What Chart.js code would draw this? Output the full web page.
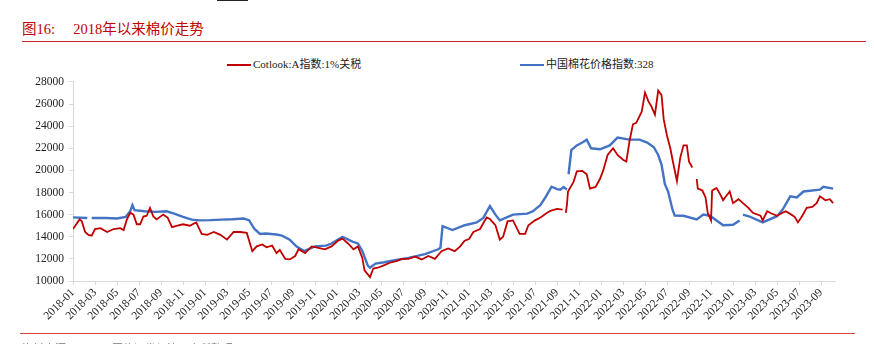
<!DOCTYPE html>
<html lang="zh-cn">
<head>
<meta charset="UTF-8">
<title>2018年以来棉价走势</title>
<script src="https://cdn.jsdelivr.net/npm/chart.js"></script>
<style>
    body { margin: 0; width: 874px; height: 344px; overflow: hidden; background: #fff; position: relative;
           font-family: "Liberation Serif", "Noto Sans CJK SC", serif; }
    .topMark { position: absolute; left: 217px; top: 0; width: 31px; height: 1px; background: #222; }
    .titulo { position: absolute; left: 22px; top: 17px; font-size: 14.5px; color: #c00000; white-space: pre; }
    .linhaTopo { position: absolute; left: 22px; top: 41px; width: 844px; height: 1px; background: #c0282d; }
    .linhaBase { position: absolute; left: 20px; top: 333px; width: 835px; height: 1px; background: #d44; }
    .fonte { position: absolute; left: 22px; top: 340px; font-size: 11px; color: #777; }
    .legenda { position: absolute; top: 55px; font-size: 11px; color: #222; white-space: nowrap; }
    .legenda span { display: inline-block; width: 24px; height: 2px; vertical-align: middle; margin-right: 2px; }
    #wrap { position: absolute; left: 0; top: 70px; width: 874px; height: 270px; }
</style>
</head>
<body>
<div class="topMark"></div>
<div class="titulo">图16:     2018年以来棉价走势</div>
<div class="linhaTopo"></div>
<div class="legenda" style="left:227px"><span style="background:#c00000"></span>Cotlook:A指数:1%关税</div>
<div class="legenda" style="left:520px"><span style="background:#4472c4"></span>中国棉花价格指数:328</div>
<div id="wrap"><canvas id="grafico"></canvas></div>
<div class="linhaBase"></div>
<div class="fonte">资料来源：Wind、国信证券经济研究所整理</div>

<script>
    // meses contados a partir de 2018-01
    var redMonths = [0, 0.6, 0.8, 1.1, 1.4, 1.7, 2.0, 2.5, 3.1, 3.7, 4.3, 4.6, 4.9, 5.2, 5.5, 5.8, 6.1, 6.4, 6.7, 7.0,
        7.3, 7.6, 8.2, 8.6, 9.0, 9.5, 10.0, 10.6, 11.2, 11.7, 12.2, 12.8, 13.4, 14.0, 14.6, 15.2, 15.8, 16.3, 16.7, 17.2,
        17.6, 18.1, 18.5, 18.8, 19.3, 19.7, 20.2, 20.5, 21.1, 21.7, 22.3, 22.9, 23.5, 24.1, 24.5, 25.0, 25.5, 25.9, 26.3, 26.5,
        27.0, 27.3, 27.7, 28.2, 28.8, 29.4, 29.9, 30.5, 31.1, 31.7, 32.3, 32.9, 33.5, 34.1, 34.7, 35.2, 35.6, 36.0, 36.4, 37.0,
        37.6, 37.9, 38.4, 38.8, 39.1, 39.5, 40.0, 40.6, 41.1, 41.4, 42.0, 42.5, 43.0, 43.4, 44.0, 44.5, 44.65, 44.8, 44.9, 45.0,
        45.5, 45.8, 46.3, 46.7, 47.0, 47.5, 47.9, 48.2, 48.6, 49.1, 49.5, 50.0, 50.3, 50.6, 50.9, 51.2, 51.7, 52.0, 52.3, 52.6,
        52.9, 53.2, 53.5, 53.7, 54.0, 54.3, 54.5, 54.9, 55.2, 55.5, 55.8, 56.0, 56.3, 56.5, 56.7, 56.8, 57.2, 57.5, 57.7, 58.0,
        58.1, 58.5, 58.8, 59.1, 59.4, 59.7, 60.0, 60.5, 60.9, 61.4, 61.8, 62.5, 62.7, 63.1, 63.5, 64.0, 64.5, 64.8, 65.3, 65.6,
        65.9, 66.3, 66.7, 67.2, 67.6, 67.9, 68.4, 68.8, 69.1];
    var redValues = [14700, 15570, 15400, 14430, 14170, 14100, 14700, 14780, 14430, 14700, 14780, 14600, 15570, 16170, 16000, 15130, 15130, 15830, 15900, 16610,
        15830, 15570, 16000, 15740, 14870, 15000, 15130, 15000, 15300, 14260, 14170, 14430, 14170, 13740, 14430, 14430, 14350, 12700, 13130, 13300,
        13040, 13200, 12520, 12800, 12000, 11950, 12260, 12870, 12520, 13130, 13000, 12870, 13130, 13650, 13830, 13390, 12870, 13130, 12090, 10960,
        10350, 11130, 11200, 11390, 11650, 11800, 12000, 12000, 12200, 11950, 12260, 12000, 12700, 12950, 12700, 13130, 13650, 13800, 14430, 14700,
        15740, 15600, 15040, 13740, 14000, 15390, 15480, 14260, 14260, 15040, 15480, 15740, 16100, 16350, 16520, 16450, null, 16170, 16870, 18090,
        18960, 19910, 19950, 19650, 18350, 18500, 19220, 20000, 21390, 22000, 21390, 20960, 20800, 22700, 24170, 24300, 25300, 27040, 26260, 25740,
        25040, 27220, 26800, 24610, 23130, 22000, 20960, 19040, 21130, 22260, 22260, 20790, 20260, null, 19220, 18350, 18200, 17560, 16170, 15480,
        18170, 18400, 17900, 17300, 17700, 18090, 17040, 17400, 17040, 16610, 16170, 15900, 15480, 16300, 16100, 15900, 16170, 16300, 16000, 15800,
        15300, 15900, 16610, 16700, 17040, 17650, 17300, 17400, 17040];

    var blueMonths = [0, 1.3, 1.5, 1.7, 3.0, 4.0, 4.8, 5.2, 5.4, 5.6, 6.5, 7.5, 8.5, 9.2, 10.0, 10.8, 11.5, 12.5, 13.5, 14.5,
        15.5, 16.0, 16.5, 17.0, 17.5, 18.5, 19.0, 19.7, 20.3, 21.0, 22.0, 23.0, 23.5, 24.5, 25.4, 25.9, 26.3, 26.8, 27.0, 27.5,
        28.3, 29.0, 30.5, 32.0, 33.2, 33.4, 33.6, 34.5, 35.6, 36.7, 37.3, 37.9, 38.4, 38.8, 40.0, 41.3, 41.8, 42.5, 43.0, 43.5,
        44.0, 44.3, 44.6, 44.9, 44.98, 45.05, 45.3, 45.8, 46.3, 46.7, 47.1, 47.9, 48.8, 49.5, 50.6, 51.5, 52.2, 52.8, 53.2, 53.5,
        53.8, 54.1, 54.5, 54.7, 55.5, 56.7, 57.3, 57.9, 59.1, 60.0, 60.6, 60.75, 60.9, 61.5, 62.7, 64.0, 64.5, 65.2, 65.8, 66.4,
        67.9, 68.2, 69.1];
    var blueValues = [15750, 15700, null, 15700, 15700, 15650, 15800, 16300, 16870, 16400, 16300, 16250, 16300, 16100, 15800, 15550, 15480, 15500, 15550, 15580,
        15650, 15500, 14700, 14250, 14290, 14200, 14100, 13740, 13130, 12700, 13130, 13200, 13390, 14000, 13560, 13400, 12700, 11390, 11200, 11570,
        11700, 11830, 12090, 12430, 12870, 13000, 14960, 14610, 15040, 15300, 15700, 16780, 16000, 15480, 16000, 16090, 16300, 16870, 17650, 18520,
        18300, 18260, 18500, 18260, null, 19650, 21830, 22260, 22520, 22780, 22000, 21910, 22260, 22960, 22780, 22780, 22520, 22090, 21390, 20520,
        18780, 18090, 16440, 15910, 15900, 15570, 16000, 15900, 15040, 15090, 15480, null, 16000, 15830, 15300, 15860, 16440, 17650, 17560, 18090,
        18260, 18520, 18350];

    var yTicks = [10000, 12000, 14000, 16000, 18000, 20000, 22000, 24000, 26000, 28000];
    var xTickMonths = [];
    for (let m = 0; m <= 68; m += 2) xTickMonths.push(m);

    function juntar(xs, ys) {
        var pts = [];
        for (let i = 0; i < xs.length; i++) pts.push({ x: xs[i], y: ys[i] });
        return pts;
    }

    function nomeMes(m) {
        var ano = 2018 + Math.floor(m / 12);
        var mes = (m % 12) + 1;
        return ano + '-' + (mes < 10 ? '0' + mes : mes);
    }

    var fonteSerif = "'Liberation Serif', 'Noto Sans CJK SC', serif";
    var cinza = '#d9d9d9';

    new Chart(document.getElementById('grafico'), {
        type: 'line',
        data: {
            datasets: [{
                label: 'Cotlook:A指数:1%关税',
                data: juntar(redMonths, redValues),
                borderColor: '#c00000',
                borderWidth: 1.8,
                pointRadius: 0,
                tension: 0
            }, {
                label: '中国棉花价格指数:328',
                data: juntar(blueMonths, blueValues),
                borderColor: '#4472c4',
                borderWidth: 2.4,
                pointRadius: 0,
                tension: 0
            }]
        },
        options: {
            responsive: true,
            maintainAspectRatio: false,
            animation: false,
            layout: { padding: { top: 4, right: 39, bottom: 9, left: 0 } },
            plugins: { legend: { display: false }, tooltip: { enabled: false } },
            scales: {
                x: {
                    type: 'linear',
                    min: 0,
                    max: 69.27,
                    afterBuildTicks: function (scale) {
                        scale.ticks = xTickMonths.map(v => ({ value: v }));
                    },
                    afterFit: function (scale) { scale.height = 50; },
                    grid: { display: true, drawOnChartArea: false, tickLength: 4, color: cinza },
                    border: { color: cinza },
                    ticks: {
                        autoSkip: false,
                        minRotation: 45,
                        maxRotation: 45,
                        padding: 1,
                        color: '#222',
                        font: { family: fonteSerif, size: 11.5 },
                        callback: function (v) { return nomeMes(v); }
                    }
                },
                y: {
                    min: 10000,
                    max: 28000,
                    afterBuildTicks: function (scale) {
                        scale.ticks = yTicks.map(v => ({ value: v }));
                    },
                    afterFit: function (scale) { scale.width = 73; },
                    grid: { display: true, drawOnChartArea: false, tickLength: 4, color: cinza },
                    border: { color: cinza },
                    ticks: {
                        padding: 5,
                        color: '#222',
                        font: { family: fonteSerif, size: 11.5 },
                        callback: function (v) { return String(v); }
                    }
                }
            }
        }
    });
</script>
</body>
</html>
